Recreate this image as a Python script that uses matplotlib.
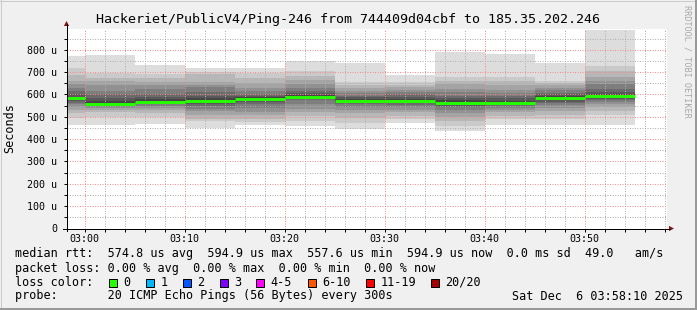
import datetime as dt
import matplotlib
matplotlib.use("Agg")
import matplotlib.pyplot as plt
import matplotlib.dates as mdates
from matplotlib.lines import Line2D
from matplotlib.patches import Polygon, Rectangle
from matplotlib.ticker import MultipleLocator, FuncFormatter
from matplotlib.transforms import Affine2D

# ---------------- data ----------------
title = "Hackeriet/PublicV4/Ping-246 from 744409d04cbf to 185.35.202.246"
day = "2025-12-06"
view_start = "02:58:10"
view_end = "03:58:10"
bin_minutes = 5
bin_starts = ["02:55", "03:00", "03:05", "03:10", "03:15", "03:20",
              "03:25", "03:30", "03:35", "03:40", "03:45", "03:50"]
# median rtt per bin (microseconds)
median_us = [582, 557.6, 568, 571, 581, 590, 572, 570, 562, 561, 585, 594.9]
# 20 sorted ping rtts per bin (microseconds)
pings_0 = [465, 495, 515, 530, 545, 555, 562, 570, 576, 580, 584, 590, 600, 615, 630, 647, 662, 687, 717, 770]
pings_1 = [461, 501, 520, 532, 540, 543, 548, 552, 555, 557, 560, 570, 585, 600, 617, 640, 659, 675, 696, 778]
pings_2 = [469, 500, 518, 530, 540, 548, 555, 560, 564, 567, 570, 578, 588, 603, 625, 640, 654, 674, 692, 733]
pings_3 = [449, 480, 491, 510, 525, 536, 548, 556, 563, 569, 573, 582, 595, 610, 632, 640, 654, 690, 702, 720]
pings_4 = [461, 476, 490, 506, 520, 540, 558, 567, 574, 579, 583, 588, 595, 603, 615, 630, 652, 675, 696, 716]
pings_5 = [457, 480, 505, 520, 536, 555, 573, 580, 585, 588, 592, 597, 605, 617, 630, 647, 665, 684, 707, 748]
pings_6 = [445, 470, 495, 515, 530, 545, 555, 562, 567, 570, 574, 580, 588, 595, 605, 615, 628, 640, 654, 739]
pings_7 = [472, 490, 505, 520, 532, 545, 553, 560, 565, 568, 572, 580, 590, 600, 612, 622, 632, 640, 654, 689]
pings_8 = [436, 460, 480, 500, 515, 530, 542, 550, 555, 560, 565, 575, 585, 595, 610, 625, 647, 660, 677, 788]
pings_9 = [465, 490, 505, 520, 530, 540, 548, 553, 557, 560, 563, 572, 582, 595, 608, 622, 640, 660, 680, 783]
pings_10 = [465, 490, 510, 525, 540, 552, 560, 568, 575, 582, 587, 592, 600, 608, 618, 628, 640, 650, 662, 742]
pings_11 = [465, 506, 525, 543, 555, 565, 573, 580, 587, 592, 597, 603, 612, 625, 645, 662, 680, 707, 729, 890]
pings = [pings_0, pings_1, pings_2, pings_3, pings_4, pings_5,
         pings_6, pings_7, pings_8, pings_9, pings_10, pings_11]
y_max_us = 895
y_major_step = 100
y_minor_step = 50

legend_rtt = "median rtt:  574.8 us avg  594.9 us max  557.6 us min  594.9 us now  0.0 ms sd  49.0   am/s"
legend_loss = "packet loss: 0.00 % avg  0.00 % max  0.00 % min  0.00 % now"
legend_color_title = "loss color:"
loss_labels = ["0", "1", "2", "3", "4-5", "6-10", "11-19", "20/20"]
loss_colors = ["#26ff00", "#00b8ff", "#0059ff", "#7e00ff", "#ff00ff", "#ff5500", "#ff0000", "#a00000"]
legend_probe = "probe:       20 ICMP Echo Pings (56 Bytes) every 300s"
legend_date = "Sat Dec  6 03:58:10 2025"
watermark = "RRDTOOL / TOBI OETIKER"
ylabel = "Seconds"

# ---------------- figure ----------------
W, H, DPI = 697, 310, 100
MONO = "DejaVu Sans Mono"
BG = "#f0f0f0"

fig = plt.figure(figsize=(W / DPI, H / DPI), dpi=DPI, facecolor=BG)
PX = Affine2D().scale(1.0 / W, -1.0 / H).translate(0, 1) + fig.transFigure

AX_L, AX_R, AX_T, AX_B = 66.5, 666.5, 28.5, 228.5
ax = fig.add_axes([AX_L / W, 1 - AX_B / H, (AX_R - AX_L) / W, (AX_B - AX_T) / H])
ax.set_facecolor("white")


def tnum(hms):
    fmt = "%Y-%m-%d %H:%M:%S" if hms.count(":") == 2 else "%Y-%m-%d %H:%M"
    return mdates.date2num(dt.datetime.strptime(day + " " + hms, fmt))


xs = [tnum(s) for s in bin_starts]
bw = bin_minutes / (24 * 60)
n = len(pings[0])
half = n // 2
for ibot in range(1, half + 1):
    g = int(190 / half * (half - ibot)) + 50
    col = "#%02x%02x%02x" % (g, g, g)
    lows = [p[ibot - 1] for p in pings]
    highs = [p[n - ibot] for p in pings]
    ax.bar(xs, [h - l for h, l in zip(highs, lows)], bottom=lows, width=bw,
           align="edge", color=col, linewidth=0, antialiased=False, zorder=1)

ax.hlines(median_us, xs, [x + bw for x in xs], colors=loss_colors[0], lw=2.1, zorder=3)

ax.set_xlim(tnum(view_start), tnum(view_end))
ax.set_ylim(0, y_max_us)

ax.xaxis.set_major_locator(mdates.MinuteLocator(byminute=range(0, 60, 10)))
ax.xaxis.set_minor_locator(mdates.MinuteLocator(byminute=range(0, 60, 2)))
ax.xaxis.set_major_formatter(mdates.DateFormatter("%H:%M"))
ax.yaxis.set_major_locator(MultipleLocator(y_major_step))
ax.yaxis.set_minor_locator(MultipleLocator(y_minor_step))
ax.yaxis.set_major_formatter(FuncFormatter(lambda v, p: "0" if v == 0 else "%d u" % v))

ax.grid(which="major", color="#f28c8c", linestyle=(0, (1, 1.5)), lw=0.72)
ax.grid(which="minor", color="#b0b0b0", linestyle=(0, (1, 1.5)), lw=0.72)
ax.set_axisbelow(False)

ax.tick_params(which="both", direction="out", length=2.2, width=0.72, color="#000000")
ax.tick_params(axis="y", which="major", pad=4.5, labelsize=7.2)
ax.tick_params(axis="x", which="major", pad=1.5, labelsize=7.2)
for lab in ax.get_xticklabels() + ax.get_yticklabels():
    lab.set_family(MONO)
for s in ax.spines.values():
    s.set_visible(False)

# axis lines with arrows
fig.add_artist(Line2D([63, 670], [AX_B, AX_B], color="#000000", lw=0.72, transform=PX))
fig.add_artist(Line2D([AX_L, AX_L], [231, 24], color="#000000", lw=0.72, transform=PX))
fig.add_artist(Polygon([[674, AX_B], [669, AX_B - 2.6], [669, AX_B + 2.6]], closed=True,
                       color="#8b1010", transform=PX, lw=0))
fig.add_artist(Polygon([[AX_L, 21], [AX_L - 2.6, 26], [AX_L + 2.6, 26]], closed=True,
                       color="#8b1010", transform=PX, lw=0))

# texts
fig.text(348.5, 23.5, title, transform=PX, family=MONO, fontsize=9.6,
         ha="center", va="baseline")
fig.text(10, (AX_T + AX_B) / 2, ylabel, transform=PX, family=MONO, fontsize=8.5,
         rotation=90, ha="center", va="center")
fig.text(687.5, 5, watermark, transform=PX, family=MONO, fontsize=6.1,
         rotation=270, ha="center", va="top", color="#a8a8a8")

LX = 15
fig.text(LX, 257.5, legend_rtt, transform=PX, family=MONO, fontsize=8.5, va="baseline")
fig.text(LX, 271.6, legend_loss, transform=PX, family=MONO, fontsize=8.5, va="baseline")
fig.text(LX, 285.7, legend_color_title, transform=PX, family=MONO, fontsize=8.5, va="baseline")
box_x = [108.5, 145.5, 182.5, 219.5, 256.0, 307.5, 365.5, 431.0]
text_x = [123.2, 160.2, 197.5, 234.5, 270.5, 322.0, 380.2, 445.0]
for bx, tx, lab, col in zip(box_x, text_x, loss_labels, loss_colors):
    fig.add_artist(Rectangle((bx, 278.5), 8, 8, facecolor=col, edgecolor="#000000",
                             lw=0.72, transform=PX))
    fig.text(tx, 285.7, lab, transform=PX, family=MONO, fontsize=8.5, va="baseline")
fig.text(LX, 299.5, legend_probe, transform=PX, family=MONO, fontsize=8.5, va="baseline")
fig.text(512.5, 299.5, legend_date, transform=PX, family=MONO, fontsize=8.5, va="baseline")

# 3D-ish frame
fig.add_artist(Line2D([0, W], [0.5, 0.5], color="#cbcbcb", lw=0.72, transform=PX))
fig.add_artist(Line2D([0.5, 0.5], [0, H], color="#cbcbcb", lw=0.72, transform=PX))
fig.add_artist(Line2D([0, W], [309, 309], color="#999999", lw=1.44, transform=PX))
fig.add_artist(Line2D([696, 696], [0, H], color="#999999", lw=1.44, transform=PX))

fig.savefig("out.png", dpi=DPI, facecolor=BG)
